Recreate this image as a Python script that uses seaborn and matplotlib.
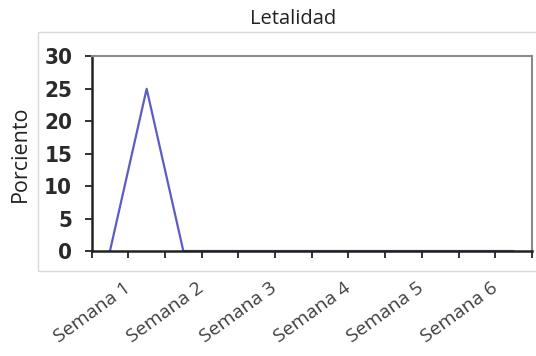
import numpy as np
import pandas as pd
import matplotlib
matplotlib.use("Agg")
import matplotlib.pyplot as plt
from matplotlib.patches import Rectangle
import seaborn as sns

# Data
week_labels = ["Semana 1", "Semana 2", "Semana 3", "Semana 4", "Semana 5", "Semana 6"]
slot_index = list(range(12))          # half-week slots along the category axis
letalidad = [0, 25, 0, 0, 0, 0, 0, 0, 0, 0, 0, 0]
y_ticks = [0, 5, 10, 15, 20, 25, 30]

sns.set_theme(style="white")
plt.rcParams['font.family'] = ['Open Sans', 'DejaVu Sans']

fig = plt.figure(figsize=(5.36, 3.56), dpi=100)
ax = fig.add_axes([0.1709, 0.2949, 0.8216, 0.5467])

# outer chart-area border
fig.patches.append(Rectangle((38/536, 1-271/356), 1.2, (271-31.5)/356,
                             transform=fig.transFigure, fill=False,
                             edgecolor="#d9d9d9", linewidth=1.0, zorder=0))

df = pd.DataFrame({"slot": np.array(slot_index) + 0.5, "valor": letalidad})
sns.lineplot(data=df, x="slot", y="valor", ax=ax, color="#5c5cc8",
             linewidth=1.6, clip_on=False)

ax.set_xlim(0, 12)
ax.set_ylim(0, 30)
ax.set_yticks(y_ticks)
ax.set_yticklabels([str(v) for v in y_ticks], family=['DejaVu Sans'],
                   fontstretch='condensed', fontweight='bold',
                   fontsize=16, color="#2a2a2a")
ax.set_xticks(np.arange(1, 12, 2))
ax.set_xticks(np.arange(0, 13, 2), minor=True)
ax.set_xticklabels(week_labels, rotation=36, ha="right", va="center",
                   rotation_mode="anchor", fontsize=14, color="#404040")

ax.tick_params(axis="y", which="major", direction="out", length=5, width=1.3,
               color="#222222", pad=9, left=True)
ax.tick_params(axis="x", which="both", direction="out", length=5, width=1.3,
               color="#222222", bottom=True)
ax.tick_params(axis="x", which="major", pad=20)

for side in ["left", "bottom"]:
    ax.spines[side].set_color("#222222")
    ax.spines[side].set_linewidth(1.8)
for side in ["top", "right"]:
    ax.spines[side].set_color("#8a8a8a")
    ax.spines[side].set_linewidth(1.5)

ax.set_xlabel("")
ax.set_ylabel("")
fig.text(20/536, 1-154/356, "Porciento", rotation=90, ha="center", va="center",
         fontsize=15.5, color="#222222")
fig.text(293/536, 1-19/356, "Letalidad", ha="center", va="center",
         fontsize=14.5, color="#222222")

fig.savefig("out.png", dpi=100)
